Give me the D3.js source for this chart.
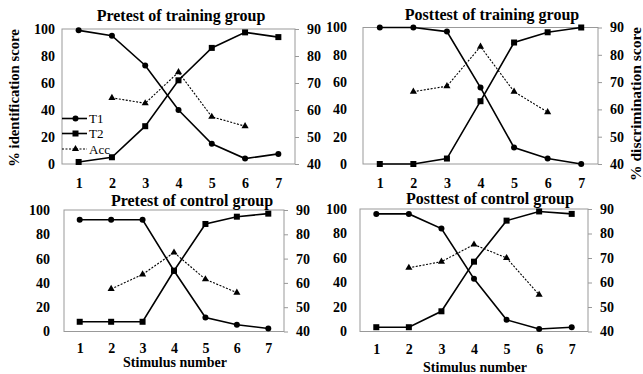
<!DOCTYPE html>
<html>
<head>
<meta charset="utf-8">
<script src="https://cdn.jsdelivr.net/npm/d3@7/dist/d3.min.js"></script>
<style>
  html, body { margin: 0; padding: 0; background: #fff; }
  svg { display: block; font-family: "Liberation Serif", "Times New Roman", serif; }
</style>
</head>
<body>
<svg id="chart" width="643" height="374"></svg>
<script>
// Stimulus continuum steps
const stimuli = [1, 2, 3, 4, 5, 6, 7];
const accStimuli = [2, 3, 4, 5, 6];

// Identification (% T1 / % T2) and discrimination accuracy (%) per group/test
const pretestTrainingT1 = [99, 95, 73, 40, 15, 4, 7.5];
const pretestTrainingT2 = [1.5, 5, 28, 62, 86, 97.5, 94];
const pretestTrainingAcc = [64.5, 62.5, 74, 57.5, 54];

const posttestTrainingT1 = [100, 100, 97, 56, 12, 4, 0];
const posttestTrainingT2 = [0, 0, 4, 46, 89, 96.5, 100];
const posttestTrainingAcc = [66.5, 68.5, 83, 66.5, 59];

const pretestControlT1 = [92, 92, 92, 50, 11.5, 5.5, 2.5];
const pretestControlT2 = [8, 8, 8, 50, 88.5, 94.5, 97];
const pretestControlAcc = [57.5, 63.5, 72.5, 61.5, 56];

const posttestControlT1 = [96, 96, 84, 43, 9.5, 2, 3.5];
const posttestControlT2 = [3.5, 3.5, 16.5, 57, 90.5, 98, 96];
const posttestControlAcc = [66, 68.5, 75.5, 70, 55];

const panelTitles = ["Pretest of training group", "Posttest of training group",
                     "Pretest of control group", "Posttest of control group"];
const idTicks = [0, 20, 40, 60, 80, 100];
const accTicks = [40, 50, 60, 70, 80, 90];
const legendLabels = ["T1", "T2", "Acc"];

const svg = d3.select("#chart");

// Panel geometry
const panels = [
  { title: panelTitles[0], t1: pretestTrainingT1, t2: pretestTrainingT2, acc: pretestTrainingAcc,
    L: 62, R: 295, T: 29, B: 164, leftPad: 7, titleX: 181, titleY: 21, xPad: 14, legend: true },
  { title: panelTitles[1], t1: posttestTrainingT1, t2: posttestTrainingT2, acc: posttestTrainingAcc,
    L: 363, R: 598, T: 27.5, B: 164, leftPad: 16, titleX: 492, titleY: 20, xPad: 14 },
  { title: panelTitles[2], t1: pretestControlT1, t2: pretestControlT2, acc: pretestControlAcc,
    L: 64, R: 284, T: 210, B: 331.5, leftPad: 14, titleX: 192, titleY: 206, xPad: 12 },
  { title: panelTitles[3], t1: posttestControlT1, t2: posttestControlT2, acc: posttestControlAcc,
    L: 360, R: 588, T: 209, B: 331.5, leftPad: 13, titleX: 490, titleY: 204, xPad: 13 }
];

const frameColor = "#999";
const serif = "'Liberation Serif', 'Times New Roman', serif";

function marker(g, shape, x, y) {
  if (shape === "circle") {
    g.append("circle").attr("cx", x).attr("cy", y).attr("r", 3).attr("fill", "#000");
  } else if (shape === "square") {
    g.append("rect").attr("x", x - 3).attr("y", y - 3).attr("width", 6).attr("height", 6).attr("fill", "#000");
  } else {
    g.append("path")
      .attr("d", d3.symbol().type(d3.symbolTriangle).size(22)())
      .attr("transform", `translate(${x},${y})`)
      .attr("fill", "#000");
  }
}

panels.forEach(p => {
  const g = svg.append("g");
  const x = d3.scalePoint().domain(stimuli).range([p.L, p.R]).padding(0.5);
  const yId = d3.scaleLinear().domain([0, 100]).range([p.B, p.T]);
  const yAcc = d3.scaleLinear().domain([40, 90]).range([p.B, p.T]);

  // plot frame
  g.append("rect")
    .attr("x", p.L).attr("y", p.T)
    .attr("width", p.R - p.L).attr("height", p.B - p.T)
    .attr("fill", "none").attr("stroke", frameColor).attr("stroke-width", 1);

  // left axis: identification
  const la = g.append("g").attr("transform", `translate(${p.L},0)`)
    .call(d3.axisLeft(yId).tickValues(idTicks).tickSize(0).tickPadding(p.leftPad));
  // right axis: discrimination
  const ra = g.append("g").attr("transform", `translate(${p.R},0)`)
    .call(d3.axisRight(yAcc).tickValues(accTicks).tickSize(4).tickPadding(8));
  // bottom axis: stimulus number
  const ba = g.append("g").attr("transform", `translate(0,${p.B})`)
    .call(d3.axisBottom(x).tickSize(0).tickPadding(p.xPad));

  [la, ra, ba].forEach(a => {
    a.attr("font-family", serif);
    a.select(".domain").remove();
    a.selectAll(".tick line").attr("stroke", frameColor);
    a.selectAll(".tick text")
      .attr("fill", "#000")
      .style("font-family", serif)
      .style("font-weight", "bold")
      .style("font-size", "14px");
  });

  // title
  g.append("text")
    .attr("x", p.titleX).attr("y", p.titleY)
    .attr("text-anchor", "middle")
    .style("font-weight", "bold").style("font-size", "16px")
    .text(p.title);

  const line = d3.line();

  // T1 identification
  g.append("path")
    .attr("d", line(stimuli.map((s, i) => [x(s), yId(p.t1[i])])))
    .attr("fill", "none").attr("stroke", "#000").attr("stroke-width", 1.6);
  // T2 identification
  g.append("path")
    .attr("d", line(stimuli.map((s, i) => [x(s), yId(p.t2[i])])))
    .attr("fill", "none").attr("stroke", "#000").attr("stroke-width", 1.6);
  // discrimination accuracy
  g.append("path")
    .attr("d", line(accStimuli.map((s, i) => [x(s), yAcc(p.acc[i])])))
    .attr("fill", "none").attr("stroke", "#000").attr("stroke-width", 1.1)
    .attr("stroke-dasharray", "2,1.5");

  stimuli.forEach((s, i) => marker(g, "circle", x(s), yId(p.t1[i])));
  stimuli.forEach((s, i) => marker(g, "square", x(s), yId(p.t2[i])));
  accStimuli.forEach((s, i) => marker(g, "triangle", x(s), yAcc(p.acc[i])));

  if (p.legend) {
    const shapes = ["circle", "square", "triangle"];
    const ly = [118.5, 133.5, 149];
    legendLabels.forEach((lab, i) => {
      g.append("line")
        .attr("x1", p.L).attr("x2", p.L + 25)
        .attr("y1", ly[i]).attr("y2", ly[i])
        .attr("stroke", "#000")
        .attr("stroke-width", i < 2 ? 1.6 : 1.1)
        .attr("stroke-dasharray", i < 2 ? null : "2,1.5");
      marker(g, shapes[i], p.L + 13.5, ly[i]);
      g.append("text")
        .attr("x", p.L + 27).attr("y", ly[i] + 4.5)
        .style("font-size", "13px")
        .text(lab);
    });
  }
});

// Axis titles
svg.append("text")
  .attr("transform", "translate(19,98) rotate(-90)")
  .attr("text-anchor", "middle")
  .style("font-weight", "bold").style("font-size", "14.7px")
  .text("% identification score");

svg.append("text")
  .attr("transform", "translate(641,104) rotate(-90)")
  .attr("text-anchor", "middle")
  .style("font-weight", "bold").style("font-size", "15.5px")
  .text("% discrimination score");

svg.append("text")
  .attr("x", 175).attr("y", 367)
  .attr("text-anchor", "middle")
  .style("font-weight", "bold").style("font-size", "14px")
  .text("Stimulus number");

svg.append("text")
  .attr("x", 475).attr("y", 372)
  .attr("text-anchor", "middle")
  .style("font-weight", "bold").style("font-size", "14px")
  .text("Stimulus number");
</script>
</body>
</html>
